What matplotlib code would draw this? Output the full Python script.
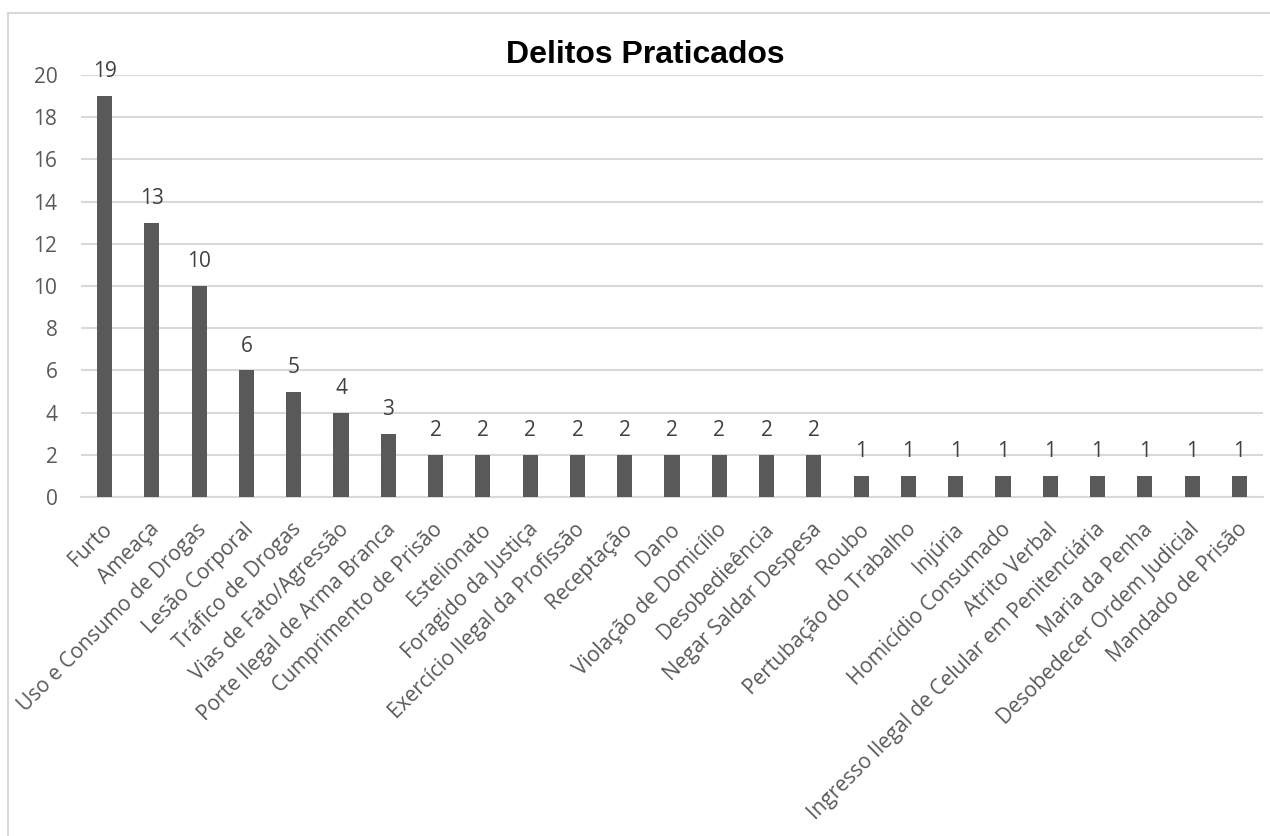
import matplotlib
matplotlib.use("Agg")
import matplotlib.pyplot as plt
from matplotlib.patches import Rectangle
from matplotlib.transforms import ScaledTranslation
import numpy as np

categorias = [
    "Furto", "Ameaça", "Uso e Consumo de Drogas", "Lesão Corporal",
    "Tráfico de Drogas", "Vias de Fato/Agressão", "Porte Ilegal de Arma Branca",
    "Cumprimento de Prisão", "Estelionato", "Foragido da Justiça",
    "Exercício Ilegal da Profissão", "Receptação", "Dano",
    "Violação de Domicílio", "Desobedieência", "Negar Saldar Despesa",
    "Roubo", "Pertubação do Trabalho", "Injúria", "Homicídio Consumado",
    "Atrito Verbal", "Ingresso Ilegal de Celular em Penitenciária",
    "Maria da Penha", "Desobedecer Ordem Judicial", "Mandado de Prisão",
]
valores = [19, 13, 10, 6, 5, 4, 3, 2, 2, 2, 2, 2, 2, 2, 2, 2,
           1, 1, 1, 1, 1, 1, 1, 1, 1]

plt.rcParams['font.family'] = ['Open Sans', 'DejaVu Sans']
cinza = '#595959'
grade = '#d9d9d9'

fig = plt.figure(figsize=(12.7, 8.36), dpi=100)
ax = fig.add_axes([81/1270, 1 - 497/836, (1263 - 81)/1270, (497 - 75)/836])

x = np.arange(len(categorias))
barras = ax.bar(x, valores, width=0.32, color=cinza, zorder=3)
ax.bar_label(barras, padding=10, fontsize=15, color='#404040')

ax.set_xlim(-0.5, len(categorias) - 0.5)
ax.set_ylim(0, 20)
ax.set_yticks(range(0, 21, 2))
ax.yaxis.grid(True, color=grade, lw=1.5, zorder=0)
ax.tick_params(axis='both', length=0, labelsize=15, labelcolor=cinza)
ax.tick_params(axis='y', pad=17)
ax.tick_params(axis='x', pad=0)
ax.set_xticks(x)
ax.set_xticklabels(categorias, rotation=45, ha='right', va='top',
                   rotation_mode='anchor')
# desloca os rótulos para ficarem como no Excel
desloc = ScaledTranslation(-3/100, -22/100, fig.dpi_scale_trans)
for rotulo in ax.get_xticklabels():
    rotulo.set_transform(rotulo.get_transform() + desloc)
for lado in ['top', 'right', 'left']:
    ax.spines[lado].set_visible(False)
ax.spines['bottom'].set_color(grade)
ax.spines['bottom'].set_linewidth(1.5)

fig.text(0.508, 1 - 63/836, "Delitos Praticados", ha='center', va='baseline',
         fontsize=23, fontweight='bold', family='Liberation Sans')

fig.patches.append(Rectangle((8/1270, -0.1), 1.2, 1.1 - 13/836,
                             transform=fig.transFigure, fill=False,
                             edgecolor=grade, lw=1.5))

fig.savefig("out.png", dpi=100, facecolor='white')
